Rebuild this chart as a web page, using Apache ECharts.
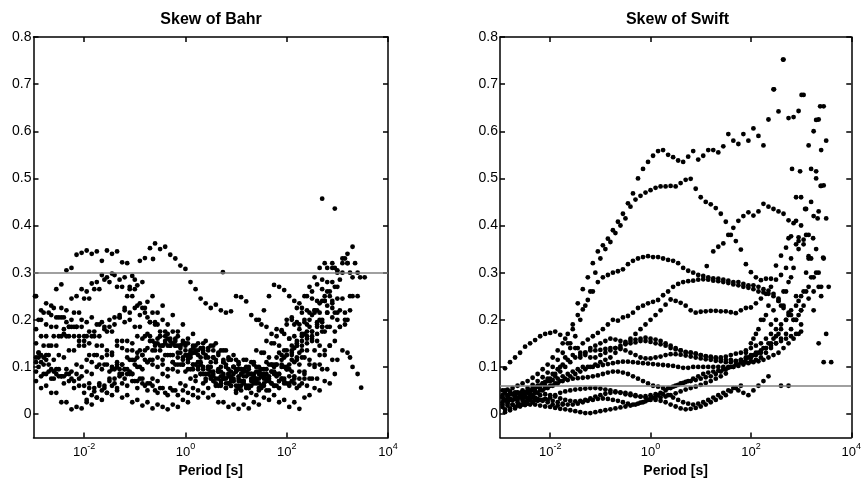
<!DOCTYPE html>
<html>
<head>
<meta charset="utf-8">
<script src="https://cdn.jsdelivr.net/npm/echarts@6/dist/echarts.min.js"></script>
<style>
  html, body { margin: 0; padding: 0; background: #fff; }
  #main { width: 864px; height: 483px; }
</style>
</head>
<body>
<div id="main"></div>
<script>
// log10 of period [s] at which the skew values were sampled (two interleaved sets)
var PERIOD_EXP_A = [-2.95,-2.85,-2.75,-2.65,-2.55,-2.45,-2.35,-2.25,-2.15,-2.05,
  -1.95,-1.85,-1.75,-1.65,-1.55,-1.45,-1.35,-1.25,-1.15,-1.05,
  -0.95,-0.85,-0.75,-0.65,-0.55,-0.45,-0.35,-0.25,-0.15,-0.05,
  0.05,0.15,0.25,0.35,0.45,0.55,0.65,0.75,0.85,0.95,
  1.05,1.15,1.25,1.35,1.45,1.55,1.65,1.75,1.85,1.95,
  2.05,2.15,2.25,2.35,2.45,2.55,2.65,2.75,2.85,2.95,
  3.05,3.15,3.25,3.35,3.45,3.55];
var PERIOD_EXP_B = [-2.9,-2.8,-2.7,-2.6,-2.5,-2.4,-2.3,-2.2,-2.1,-2.0,
  -1.9,-1.8,-1.7,-1.6,-1.5,-1.4,-1.3,-1.2,-1.1,-1.0,
  -0.9,-0.8,-0.7,-0.6,-0.5,-0.4,-0.3,-0.2,-0.1,0.0,
  0.1,0.2,0.3,0.4,0.5,0.6,0.7,0.8,0.9,1.0,
  1.1,1.2,1.3,1.4,1.5,1.6,1.7,1.8,1.9,2.0,
  2.1,2.2,2.3,2.4,2.5,2.6,2.7,2.8,2.9,3.0,
  3.1,3.2,3.3,3.4,3.5,3.6];

var X_TICKS = [-2, 0, 2, 4];
var Y_TICKS = [0, 0.1, 0.2, 0.3, 0.4, 0.5, 0.6, 0.7, 0.8];
var TITLES = ['Skew of Bahr', 'Skew of Swift'];
var THRESHOLDS = [0.3, 0.06];

// Bahr skew, one entry per station: first period index + values
var BAHR_TRACKS = [
  {from: 0, v: [0.25,0.22,0.235,0.23,0.265,0.275,0.305,0.31,0.338,0.342,
    0.347,0.34,0.345,0.325,0.347,0.34,0.345,0.322,0.32,0.293,
    0.273,0.28,0.238,0.25,0.215,0.23,0.19,0.21,0.175,0.19,
    0.15,0.17,0.135,0.15,0.12,0.135,0.095,0.115,0.08,0.1,
    0.07,0.09,0.06,0.085,0.055,0.08,0.07,0.1,0.085,0.12,
    0.105,0.14,0.13,0.17,0.185,0.22,0.2,0.25,0.26,0.31,
    0.285,0.33,0.3,0.32,0.29]},
  {from: 16, v: [0.21,0.225,0.265,0.285,0.325,
    0.331,0.352,0.362,0.35,0.355,0.338,0.33,0.315,0.308,
    0.28,0.265,0.245,0.235,0.225,0.232,0.22,0.215,0.218,0.25,
    0.248,0.239,0.21,0.2,0.19,0.185,0.17,0.165,0.178,0.19,
    0.2,0.195,0.215,0.22,0.245,0.24,0.265,0.28,0.31,0.305,
    0.33,0.32,0.355]},
  {from: 0, v: [0.18,0.2,0.19,0.21,0.205,0.225,0.22,0.245,0.25,0.265,
    0.26,0.277,0.28,0.295,0.29,0.298,0.27,0.27,0.25,0.25,
    0.23,0.225,0.205,0.215,0.19,0.2,0.17,0.175,0.145,0.15,
    0.125,0.14,0.11,0.13,0.1,0.12,0.09,0.11,0.085,0.1,
    0.075,0.095,0.085,0.11,0.1,0.13,0.12,0.15,0.145,0.17,
    0.16,0.19,0.18,0.2,0.2,0.22,0.215,0.24,0.25,0.27,
    0.22,0.2,0.12]},
  {from: 5, v: [0.17,0.185,0.215,0.215,0.245,
    0.245,0.265,0.265,0.285,0.28,0.295,0.285,0.29,0.27,0.265,
    0.235,0.225,0.195,0.19,0.165,0.165,0.145,0.145,0.13,0.135,
    0.12,0.13,0.11,0.12,0.1,0.11,0.09,0.1,0.08,0.09,
    0.07,0.08,0.06,0.075,0.06,0.07,0.065,0.08,0.075,0.095,
    0.09,0.12,0.12,0.15,0.16,0.19,0.2,0.23,0.24,0.27,
    0.3,0.32,0.29,0.25]},
  {from: 0, v: [0.07,0.055,0.06,0.045,0.045,0.025,0.025,0.01,0.015,0.012,
    0.025,0.02,0.035,0.03,0.045,0.04,0.05,0.035,0.04,0.025,
    0.03,0.018,0.025,0.012,0.02,0.015,0.01,0.02,0.015,0.03,
    0.025,0.04,0.035,0.045,0.035,0.04,0.025,0.025,0.015,0.02,
    0.011,0.02,0.012,0.025,0.02,0.035,0.03,0.04,0.025,0.03,
    0.015,0.025,0.011,0.035,0.04,0.055,0.05,0.07,0.065,0.085]},
  {from: 0, v: [0.1,0.085,0.09,0.075,0.08,0.065,0.07,0.055,0.06,0.045,
    0.055,0.048,0.06,0.055,0.07,0.065,0.08,0.075,0.085,0.07,
    0.075,0.06,0.065,0.05,0.055,0.045,0.055,0.05,0.065,0.06,
    0.075,0.07,0.085,0.075,0.08,0.065,0.07,0.055,0.06,0.045,
    0.05,0.035,0.045,0.04,0.055,0.05,0.065,0.06,0.075,0.065,
    0.07,0.055,0.065,0.06,0.075,0.075,0.095,0.095,0.115,0.115,
    0.135,0.13,0.1,0.085]},
  {from: 0, v: [0.12,0.11,0.115,0.095,0.095,0.08,0.085,0.075,0.085,0.08,
    0.09,0.085,0.1,0.095,0.105,0.095,0.1,0.085,0.095,0.085,
    0.1,0.095,0.11,0.105,0.12,0.115,0.125,0.11,0.12,0.105,
    0.11,0.095,0.1,0.085,0.095,0.08,0.09,0.085,0.095,0.085,
    0.095,0.08,0.085,0.07,0.075,0.065,0.07,0.06,0.07,0.065,
    0.08,0.075,0.09,0.085,0.105,0.105,0.125,0.125,0.145,0.155,
    0.185,0.19,0.22]},
  {from: 0, v: [0.13,0.145,0.145,0.165,0.165,0.18,0.165,0.165,0.145,0.145,
    0.125,0.125,0.105,0.105,0.09,0.095,0.085,0.095,0.09,0.105,
    0.1,0.115,0.115,0.135,0.135,0.15,0.145,0.155,0.14,0.145,
    0.13,0.135,0.12,0.125,0.11,0.115,0.1,0.105,0.09,0.095,
    0.085,0.09,0.085,0.1,0.095,0.11,0.105,0.12,0.115,0.135,
    0.135,0.155,0.155,0.175,0.175,0.195,0.195,0.215,0.225,0.245,
    0.245,0.2]},
  {from: 0, v: [0.11,0.125,0.125,0.145,0.145,0.165,0.165,0.185,0.185,0.2,
    0.195,0.205,0.19,0.195,0.175,0.175,0.155,0.155,0.135,0.135,
    0.12,0.125,0.11,0.115,0.1,0.105,0.095,0.11,0.105,0.12,
    0.115,0.13,0.125,0.14,0.135,0.145,0.13,0.135,0.12,0.125,
    0.11,0.115,0.1,0.105,0.09,0.095,0.08,0.085,0.07,0.075,
    0.06,0.065,0.06,0.075,0.075,0.1,0.105,0.135,0.145,0.175,
    0.185,0.215,0.25]},
  {from: 0, v: [0.12,0.105,0.105,0.09,0.095,0.08,0.085,0.07,0.075,0.06,
    0.065,0.055,0.065,0.06,0.075,0.075,0.095,0.095,0.115,0.115,
    0.135,0.135,0.155,0.15,0.165,0.155,0.16,0.145,0.145,0.125,
    0.125,0.105,0.105,0.085,0.09,0.075,0.08,0.065,0.07,0.06,
    0.07,0.06,0.075,0.07,0.085,0.085,0.105,0.105,0.125,0.125,
    0.145,0.145,0.165,0.16,0.175,0.17,0.185,0.185,0.205,0.215]},
  {from: 0, v: [0.15,0.165,0.165,0.185,0.185,0.205,0.195,0.2,0.185,0.185,
    0.165,0.165,0.145,0.145,0.125,0.125,0.105,0.105,0.085,0.085,
    0.07,0.075,0.065,0.075,0.07,0.085,0.08,0.095,0.09,0.105,
    0.095,0.105,0.095,0.1,0.085,0.09,0.075,0.08,0.065,0.07,
    0.055,0.065,0.055,0.07,0.065,0.08,0.075,0.09,0.085,0.1,
    0.095,0.11,0.105,0.12,0.115,0.135,0.145,0.175,0.185,0.215]},
  {from: 0, v: [0.2,0.215,0.215,0.225,0.205,0.205,0.185,0.185,0.165,0.165,
    0.15,0.165,0.165,0.185,0.185,0.205,0.205,0.22,0.215,0.225,
    0.21,0.215,0.195,0.195,0.175,0.175,0.155,0.16,0.145,0.15,
    0.135,0.145,0.14,0.155,0.145,0.15,0.135,0.135,0.115,0.115,
    0.095,0.1,0.085,0.09,0.08,0.095,0.09,0.105,0.105,0.125,
    0.125,0.145,0.145,0.165,0.165,0.185,0.185,0.215,0.235,0.2]},
  {from: 0, v: [0.09,0.08,0.085,0.075,0.085,0.08,0.095,0.09,0.105,0.1,
    0.115,0.11,0.125,0.12,0.135,0.13,0.145,0.14,0.155,0.15,
    0.165,0.16,0.17,0.155,0.16,0.145,0.145,0.125,0.13,0.115,
    0.12,0.105,0.11,0.095,0.1,0.085,0.09,0.075,0.085,0.07,
    0.08,0.07,0.085,0.075,0.09,0.085,0.105,0.105,0.13,0.135,
    0.16,0.165,0.19,0.195,0.215,0.215,0.235,0.24]},
  {from: 0, v: [0.13,0.12,0.125,0.115,0.125,0.12,0.135,0.135,0.155,0.155,
    0.175,0.175,0.19,0.18,0.2,0.19,0.205,0.195,0.2,0.185,
    0.185,0.165,0.165,0.145,0.145,0.125,0.125,0.105,0.105,0.09,
    0.095,0.08,0.085,0.07,0.075,0.06,0.065,0.055,0.06,0.05,
    0.06,0.055,0.07,0.065,0.08,0.075,0.09,0.085,0.1,0.095,
    0.115,0.115,0.135,0.135,0.155,0.155,0.175]},
  {from: 10, v: [0.03,0.04,0.035,0.05,0.045,0.06,0.055,0.065,0.06,0.07,
    0.055,0.065,0.05,0.06,0.045,0.055,0.04,0.05,0.04,0.05,
    0.045,0.055,0.05,0.065,0.055,0.07,0.06,0.075,0.065,0.075,
    0.06,0.07,0.055,0.065,0.05,0.06,0.05,0.06,0.055,0.07,
    0.065,0.08,0.075,0.09]},
  {from: 49, v: [0.1,0.13,0.15,0.17,0.19,0.21,0.22,0.24,0.26,0.28,0.3,0.32,0.34,0.25,0.3]},
  {from: 44, v: [0.2,0.22,0.25,0.274,0.27,0.263,0.25,0.24,0.235,0.25,0.27,0.29,0.31,0.32]},
  {from: 36, v: [0.06,0.075,0.075,0.09,0.095,0.115,0.11,0.135,0.13,0.155,
    0.15,0.18,0.175,0.2,0.205,0.225,0.225,0.25,0.26,0.275,
    0.285,0.31,0.32]},
  {from: 15, v: [0.1,0.11,0.105,0.12,0.115,0.13,0.125,0.14,0.135,0.15,
    0.145,0.16,0.15,0.165,0.155,0.16,0.145,0.15,0.135,0.14,
    0.12,0.125,0.11,0.115,0.1,0.105,0.09,0.095,0.08,0.085,0.075]}
];
var BAHR_EXTRA = [[2.7,0.457],[2.95,0.436],[0.74,0.301],[-0.64,0.329],[3.47,0.056],[3.54,0.29],[-2.97,0.25]];

// Swift skew, one entry per station
var SWIFT_TRACKS = [
  {from: 0, v: [0.035,0.038,0.042,0.046,0.05,0.055,0.062,0.07,0.078,0.088,
    0.1,0.115,0.13,0.15,0.18,0.235,0.265,0.29,0.32,0.345,
    0.358,0.372,0.39,0.408,0.425,0.447,0.468,0.5,0.52,0.535,
    0.548,0.558,0.56,0.55,0.545,0.538,0.535,0.546,0.558,0.54,
    0.548,0.56,0.56,0.555,0.568,0.594,0.58,0.573,0.594,0.58,
    0.606,0.59,0.57,0.625,0.689,0.642,0.752,0.628,0.63,0.643,
    0.677,0.57,0.6,0.625,0.653]},
  {from: 0, v: [0.03,0.032,0.035,0.04,0.045,0.05,0.055,0.06,0.068,0.075,
    0.085,0.1,0.12,0.14,0.165,0.2,0.23,0.26,0.3,0.33,
    0.35,0.365,0.384,0.4,0.415,0.44,0.455,0.463,0.47,0.475,
    0.48,0.483,0.483,0.484,0.483,0.49,0.497,0.499,0.478,0.46,
    0.45,0.445,0.437,0.425,0.408,0.38,0.367,0.349,0.318,0.301,
    0.29,0.284,0.287,0.287,0.315,0.336,0.353,0.377,0.41,0.46,
    0.435,0.52,0.515,0.484,0.415]},
  {from: 0, v: [0.05,0.052,0.055,0.06,0.065,0.07,0.077,0.085,0.095,0.105,
    0.12,0.135,0.15,0.17,0.19,0.21,0.222,0.242,0.26,0.28,
    0.29,0.295,0.3,0.303,0.307,0.318,0.325,0.33,0.333,0.335,
    0.333,0.333,0.33,0.327,0.325,0.32,0.31,0.304,0.3,0.295,
    0.293,0.29,0.288,0.287,0.285,0.283,0.28,0.28,0.276,0.273,
    0.273,0.27,0.265,0.262,0.255,0.245,0.225,0.21,0.2,0.24,
    0.26,0.27,0.29,0.3,0.33,0.27]},
  {from: 0, v: [0.097,0.11,0.12,0.13,0.143,0.15,0.157,0.165,0.17,0.172,
    0.175,0.168,0.16,0.15,0.14,0.13,0.125,0.12,0.12,0.125,
    0.13,0.135,0.14,0.145,0.148,0.15,0.152,0.155,0.155,0.153,
    0.15,0.148,0.145,0.14,0.137,0.135,0.132,0.13,0.128,0.125,
    0.122,0.12,0.118,0.117,0.115,0.115,0.113,0.115,0.118,0.12,
    0.125,0.13,0.14,0.15,0.165,0.18,0.2,0.22,0.23,0.25,
    0.26,0.29,0.3,0.27]},
  {from: 0, v: [0.02,0.025,0.03,0.035,0.04,0.045,0.05,0.058,0.065,0.075,
    0.085,0.095,0.105,0.115,0.125,0.14,0.15,0.158,0.165,0.172,
    0.18,0.19,0.2,0.198,0.205,0.208,0.215,0.225,0.23,0.235,
    0.238,0.242,0.252,0.26,0.27,0.276,0.28,0.282,0.283,0.285,
    0.286,0.285,0.283,0.282,0.28,0.278,0.275,0.273,0.27,0.268,
    0.265,0.26,0.258,0.255,0.25,0.24,0.23,0.215,0.2,0.21,
    0.23,0.245,0.26,0.27]},
  {from: 0, v: [0.03,0.03,0.032,0.035,0.038,0.04,0.045,0.05,0.055,0.06,
    0.065,0.07,0.075,0.08,0.085,0.09,0.095,0.1,0.105,0.11,
    0.115,0.12,0.13,0.14,0.15,0.16,0.17,0.18,0.19,0.2,
    0.21,0.22,0.232,0.243,0.24,0.236,0.23,0.22,0.215,0.217,
    0.218,0.219,0.219,0.218,0.218,0.216,0.214,0.22,0.225,0.226,
    0.235,0.245,0.255,0.27,0.285,0.295,0.31,0.33,0.36,0.4,
    0.38,0.45,0.5,0.56,0.58]},
  {from: 42, v: [0.345,0.355,0.362,0.38,0.395,0.41,0.42,0.428,0.421,0.43,
    0.446,0.44,0.435,0.43,0.425,0.411,0.405,0.375,0.36,0.38,
    0.42,0.43,0.485]},
  {from: 0, v: [0.004,0.008,0.012,0.016,0.019,0.02,0.02,0.018,0.016,0.015,
    0.013,0.011,0.01,0.008,0.006,0.004,0.002,0.002,0.004,0.006,
    0.008,0.01,0.012,0.014,0.016,0.018,0.02,0.024,0.027,0.03,
    0.03,0.028,0.025,0.02,0.016,0.012,0.01,0.011,0.013,0.016,
    0.02,0.025,0.03,0.035,0.04,0.048,0.055,0.06]},
  {from: 0, v: [0.025,0.022,0.02,0.018,0.02,0.022,0.025,0.028,0.03,0.03,
    0.028,0.025,0.022,0.02,0.02,0.022,0.025,0.028,0.03,0.032,
    0.033,0.032,0.03,0.028,0.025,0.022,0.02,0.022,0.025,0.03,
    0.035,0.04,0.042,0.04,0.035,0.03,0.025,0.022,0.02,0.022,
    0.025,0.03,0.035,0.04,0.045,0.05,0.055,0.05,0.045,0.04,
    0.05,0.06,0.07,0.08]},
  {from: 0, v: [0.045,0.042,0.04,0.038,0.035,0.033,0.03,0.03,0.032,0.035,
    0.04,0.045,0.048,0.05,0.052,0.053,0.054,0.055,0.055,0.054,
    0.052,0.05,0.048,0.045,0.042,0.04,0.038,0.037,0.038,0.04,
    0.042,0.045,0.05,0.055,0.06,0.065,0.068,0.07,0.072,0.075,
    0.078,0.08,0.085,0.09,0.095,0.1,0.105,0.11,0.11,0.112,
    0.115,0.12,0.13,0.14,0.15,0.16,0.17,0.18,0.2,0.22]},
  {from: 0, v: [0.04,0.04,0.042,0.045,0.048,0.05,0.055,0.06,0.065,0.07,
    0.072,0.075,0.08,0.085,0.09,0.095,0.1,0.1,0.1,0.102,
    0.104,0.106,0.108,0.11,0.111,0.111,0.11,0.109,0.108,0.107,
    0.106,0.105,0.104,0.103,0.102,0.1,0.098,0.098,0.1,0.1,
    0.1,0.1,0.1,0.1,0.1,0.1,0.1,0.102,0.105,0.108,
    0.11,0.112,0.115,0.12,0.125,0.13,0.14,0.15,0.16,0.17]},
  {from: 0, v: [0.05,0.048,0.046,0.045,0.046,0.048,0.05,0.055,0.06,0.07,
    0.08,0.09,0.1,0.11,0.12,0.125,0.13,0.135,0.135,0.136,
    0.138,0.14,0.14,0.138,0.135,0.13,0.125,0.12,0.118,0.118,
    0.12,0.122,0.125,0.127,0.127,0.126,0.124,0.122,0.12,0.118,
    0.116,0.115,0.113,0.112,0.11,0.11,0.112,0.115,0.12,0.125,
    0.13,0.135,0.14,0.145,0.15,0.155,0.16,0.165,0.17,0.175]},
  {from: 0, v: [0.035,0.032,0.03,0.03,0.032,0.035,0.04,0.045,0.05,0.055,
    0.06,0.065,0.07,0.072,0.075,0.076,0.077,0.078,0.08,0.082,
    0.085,0.088,0.09,0.09,0.088,0.085,0.08,0.075,0.07,0.065,
    0.06,0.058,0.055,0.055,0.058,0.062,0.066,0.07,0.075,0.08,
    0.085,0.088,0.09,0.092,0.095,0.098,0.1,0.105,0.11,0.12,
    0.125,0.13,0.14,0.15,0.16,0.17]},
  {from: 15, v: [0.12,0.13,0.14,0.145,0.15,
    0.155,0.16,0.158,0.155,0.153,0.155,0.158,0.16,0.162,0.16,
    0.158,0.155,0.15,0.145,0.14,0.135,0.13,0.13,0.128,0.125,
    0.123,0.122,0.12,0.12,0.122,0.125,0.128,0.13,0.135,0.14,
    0.145,0.15,0.16,0.17,0.18,0.19,0.2,0.21,0.2,0.19]},
  {from: 0, v: [0.015,0.018,0.02,0.025,0.028,0.03,0.035,0.032,0.028,0.025,0.02,0.018,0.02]},
  {from: 48, v: [0.13,0.15,0.17,0.2,0.21,0.19,0.2,0.23,0.26,0.29,0.25,0.22,0.3,0.33,0.35,0.25,0.17,0.11]},
  {from: 50, v: [0.16,0.18,0.2,0.23,0.22,0.24,0.26,0.28,0.31,0.35,0.37,0.33,0.22,0.15]},
  {from: 0, v: [0.01,0.012,0.015,0.02,0.025,0.03,0.035,0.04,0.042,0.04,
    0.037,0.033,0.03,0.028,0.027,0.028,0.03,0.033,0.037,0.04,
    0.043,0.045,0.046,0.046,0.045,0.043,0.04,0.037,0.035,0.034,
    0.034,0.035,0.037,0.04,0.044,0.048,0.052,0.055,0.058,0.062,
    0.066,0.07,0.075,0.08,0.086]}
];
var SWIFT_EXTRA = [[2.64,0.752],[2.46,0.689],[3.01,0.677],[3.38,0.653],[3.3,0.624],[2.82,0.52],
  [2.98,0.515],[2.9,0.46],[3.08,0.435],[3.39,0.484],[3.33,0.415],[2.75,0.373],[2.95,0.367],
  [3.24,0.373],[3.44,0.332],[3.15,0.335],[1.12,0.314],[2.6,0.06],[2.75,0.06],[3.45,0.11]];

function toPoints(tracks, extra) {
  var pts = [];
  tracks.forEach(function (t, k) {
    var grid = k % 2 ? PERIOD_EXP_B : PERIOD_EXP_A;
    t.v.forEach(function (val, j) {
      if (val != null) pts.push([grid[t.from + j], val]);
    });
  });
  extra.forEach(function (p) { pts.push(p); });
  return pts;
}

var FONT = 'Liberation Sans';
var lineStyle = { color: '#000', width: 1.5 };
var grids = [
  { left: 33.5, top: 37, width: 354.5, height: 411 },
  { left: 500, top: 37, width: 355, height: 411 }
];

var xAxes = [], yAxes = [], series = [], titles = [];
var centers = [211, 677.5];
var allData = [toPoints(BAHR_TRACKS, BAHR_EXTRA), toPoints(SWIFT_TRACKS, SWIFT_EXTRA)];

grids.forEach(function (g, i) {
  xAxes.push({
    type: 'value', gridIndex: i, min: -3, max: 4, position: 'bottom',
    axisLine: { show: true, onZero: false, lineStyle: lineStyle },
    axisTick: { show: true, inside: true, length: 5, customValues: X_TICKS, lineStyle: lineStyle },
    axisLabel: {
      customValues: X_TICKS, margin: 4, color: '#000',
      formatter: function (v) { return '{b|10}{e|' + v + '}'; },
      rich: {
        b: { fontSize: 13, fontFamily: FONT, color: '#000', lineHeight: 22 },
        e: { fontSize: 9, fontFamily: FONT, color: '#000', lineHeight: 9, verticalAlign: 'top' }
      }
    },
    splitLine: { show: false },
    name: 'Period [s]', nameLocation: 'middle', nameGap: 23,
    nameTextStyle: { fontFamily: FONT, fontWeight: 'bold', fontSize: 14, color: '#000' }
  });
  xAxes.push({
    type: 'value', gridIndex: i, min: -3, max: 4, position: 'top',
    axisLine: { show: true, onZero: false, lineStyle: lineStyle },
    axisTick: { show: true, inside: true, length: 5, customValues: X_TICKS, lineStyle: lineStyle },
    axisLabel: { show: false },
    splitLine: { show: false }
  });
  yAxes.push({
    type: 'value', gridIndex: i, min: -0.05, max: 0.8, position: 'left',
    axisLine: { show: true, onZero: false, lineStyle: lineStyle },
    axisTick: { show: true, inside: true, length: 5, customValues: Y_TICKS, lineStyle: lineStyle },
    axisLabel: {
      customValues: Y_TICKS, margin: 2, color: '#000', fontSize: 14, fontFamily: FONT,
      formatter: function (v) { return String(v); }
    },
    splitLine: { show: false }
  });
  yAxes.push({
    type: 'value', gridIndex: i, min: -0.05, max: 0.8, position: 'right',
    axisLine: { show: true, onZero: false, lineStyle: lineStyle },
    axisTick: { show: true, inside: true, length: 5, customValues: Y_TICKS, lineStyle: lineStyle },
    axisLabel: { show: false },
    splitLine: { show: false }
  });
  series.push({
    type: 'scatter', xAxisIndex: i * 2, yAxisIndex: i * 2,
    data: allData[i], symbol: 'circle', symbolSize: 4.8,
    itemStyle: { color: '#000', opacity: 1 },
    markLine: {
      silent: true, symbol: 'none', label: { show: false },
      lineStyle: { color: '#808080', width: 1.5, type: 'solid' },
      data: [{ yAxis: THRESHOLDS[i] }]
    }
  });
  titles.push({
    text: TITLES[i], left: centers[i], top: 12, padding: 0, textAlign: 'center',
    textStyle: { fontFamily: FONT, fontWeight: 'bold', fontSize: 16, color: '#000' }
  });
});

var myChart = echarts.init(document.getElementById('main'));
myChart.setOption({
  animation: false,
  backgroundColor: '#fff',
  title: titles,
  grid: grids,
  xAxis: xAxes,
  yAxis: yAxes,
  series: series
});
</script>
</body>
</html>
